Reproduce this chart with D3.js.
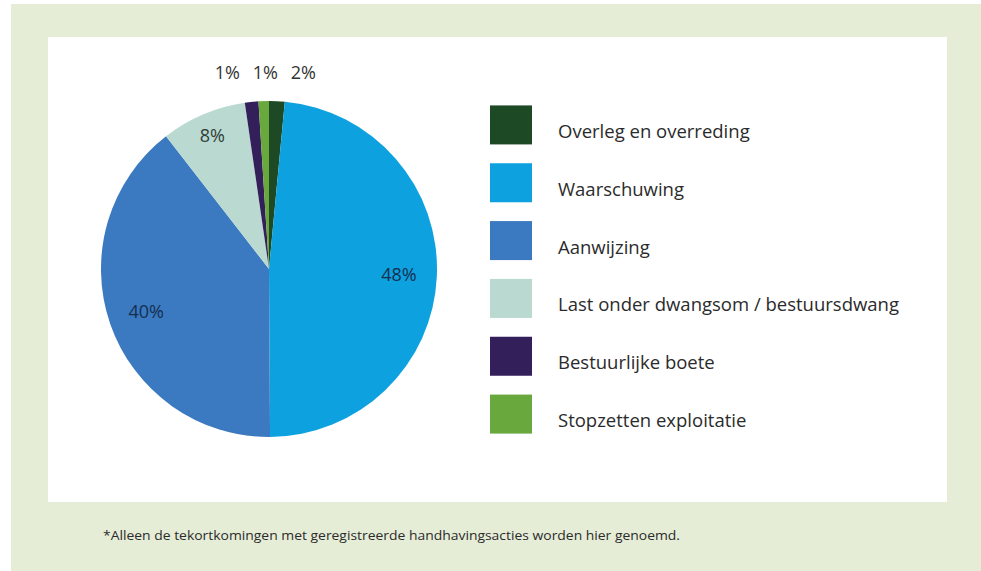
<!DOCTYPE html>
<html>
<head>
<meta charset="utf-8">
<script src="https://cdn.jsdelivr.net/npm/d3@7"></script>
<style>
  body { margin: 0; background: #fff; }
  svg { display: block; }
  text { font-family: "Open Sans", "DejaVu Sans", sans-serif; }
</style>
</head>
<body>
<div id="chart"></div>
<script>
// slice order (clockwise from the top)
const categories = [
  "Overleg en overreding",
  "Waarschuwing",
  "Aanwijzing",
  "Last onder dwangsom / bestuursdwang",
  "Bestuurlijke boete",
  "Stopzetten exploitatie"
]
const shares = [1.5, 48.4, 39.6, 8.2, 1.3, 1.0]
const colors = ["#1d4a24", "#0ea1e0", "#3b79c1", "#bad9d1", "#33205b", "#68a83c"]
const footnote = "*Alleen de tekortkomingen met geregistreerde handhavingsacties worden hier genoemd."

const width = 981, height = 571

const svg = d3.select("#chart").append("svg")
  .attr("width", width)
  .attr("height", height)
  .attr("viewBox", [0, 0, width, height])

// frame: pale green plate with a white card on it
svg.append("rect")
  .attr("x", 11).attr("y", 4)
  .attr("width", width - 11).attr("height", height - 4)
  .attr("fill", "#e6edd7")

svg.append("rect")
  .attr("x", 48).attr("y", 37)
  .attr("width", 899).attr("height", 465)
  .attr("fill", "#ffffff")

// pie
const cx = 269, cy = 269, radius = 168

const data = categories.map((c, i) => ({ name: c, value: shares[i], color: colors[i] }))

const pie = d3.pie().sort(null).value(d => d.value)
const arcs = pie(data)

const arc = d3.arc().innerRadius(0).outerRadius(radius)

const g = svg.append("g").attr("transform", `translate(${cx},${cy})`)

g.selectAll("path")
  .data(arcs)
  .join("path")
    .attr("fill", d => d.data.color)
    .attr("d", arc)

const fmt = v => d3.format(".0f")(v) + "%"

// big slices get their label inside
const inner = arcs.filter(d => d.data.value >= 5)
const innerArc = d => d3.arc().innerRadius(0).outerRadius(d.data.value > 30 ? 260 : 290)

g.append("g")
  .selectAll("text")
  .data(inner)
  .join("text")
    .attr("transform", d => `translate(${innerArc(d).centroid(d)})`)
    .attr("text-anchor", "middle")
    .attr("dy", "0.35em")
    .attr("font-size", 18)
    .attr("fill", d => d.data.value > 30 ? "#13304f" : "#2f3e37")
    .text(d => fmt(d.data.value))

// the small ones sit above the pie, spread out side by side
const small = arcs.filter(d => d.data.value < 5)
  .map(d => {
    const a = (d.startAngle + d.endAngle) / 2
    return { d, x: Math.sin(a) * 196 }
  })
  .sort((a, b) => a.x - b.x)

const gap = 38
const meanX = d3.mean(small, s => s.x)
small.forEach((s, i) => { s.x = meanX + 2 + (i - (small.length - 1) / 2) * gap })

g.append("g")
  .selectAll("text")
  .data(small)
  .join("text")
    .attr("x", s => s.x)
    .attr("y", -196)
    .attr("text-anchor", "middle")
    .attr("dy", "0.35em")
    .attr("font-size", 18)
    .attr("fill", "#333")
    .text(s => fmt(s.d.data.value))

// legend
const legendY = d3.scaleBand()
  .domain(categories)
  .range([96, 443])
  .paddingInner(0)

const legend = svg.append("g")
  .selectAll("g")
  .data(data)
  .join("g")
    .attr("transform", d => `translate(490,${legendY(d.name)})`)

legend.append("rect")
  .attr("x", 0)
  .attr("y", (legendY.bandwidth() - 39) / 2)
  .attr("width", 42)
  .attr("height", 39)
  .attr("fill", d => d.color)

legend.append("text")
  .attr("x", 68)
  .attr("y", legendY.bandwidth() / 2 + 13)
  .attr("font-size", 18.5)
  .attr("fill", "#2b2b2b")
  .text(d => d.name)

// footnote
svg.append("text")
  .attr("x", 103)
  .attr("y", 540)
  .attr("font-size", 13)
  .attr("textLength", 577)
  .attr("lengthAdjust", "spacingAndGlyphs")
  .attr("fill", "#2b2b2b")
  .text(footnote)
</script>
</body>
</html>
